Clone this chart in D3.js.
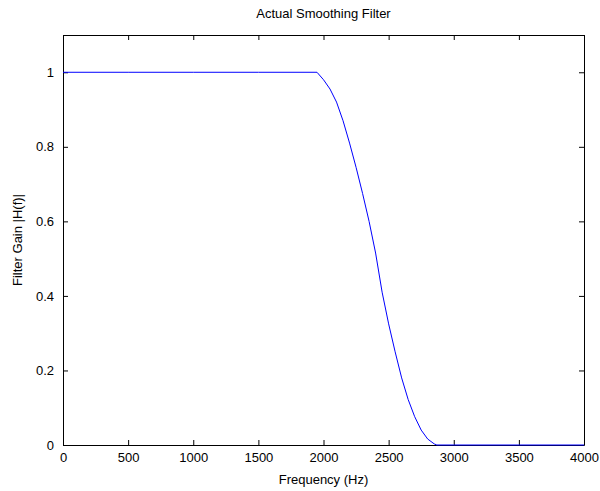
<!DOCTYPE html>
<html>
<head>
<meta charset="utf-8">
<title>Actual Smoothing Filter</title>
<script src="https://d3js.org/d3.v7.min.js"></script>
<style>
body { margin: 0; background: #fff; }
text { font-family: "Liberation Sans", Arial, sans-serif; font-size: 13px; fill: #000; }
</style>
</head>
<body>
<svg id="chart" width="600" height="491"></svg>
<script>
// frequency (Hz) and gain
var freq = [0, 500, 1000, 1500, 1950, 2000, 2050, 2100, 2150, 2200, 2250, 2300, 2350, 2400,
            2450, 2500, 2550, 2600, 2650, 2700, 2750, 2800, 2850, 2870, 3000, 3500, 4000];
var gain = [1, 1, 1, 1, 1, 0.98, 0.955, 0.92, 0.87, 0.81, 0.745, 0.675, 0.6, 0.515,
            0.41, 0.325, 0.25, 0.18, 0.122, 0.076, 0.04, 0.016, 0.003, 0, 0, 0, 0];
var xTicks = [0, 500, 1000, 1500, 2000, 2500, 3000, 3500, 4000];
var yTicks = [0, 0.2, 0.4, 0.6, 0.8, 1];

var m = {left: 63, right: 584, top: 35, bottom: 445};
var svg = d3.select("#chart");

var x = d3.scaleLinear().domain([0, 4000]).range([m.left, m.right]);
var y = d3.scaleLinear().domain([0, 1.1]).range([m.bottom, m.top]);

// axes, ticks pointing inward like matlab
function styleAxis(g) {
  g.select(".domain").attr("stroke", "#000");
  g.selectAll(".tick line").attr("stroke", "#000");
}
svg.append("g").attr("transform", "translate(0," + m.bottom + ")")
  .call(d3.axisBottom(x).tickValues(xTicks).tickSizeInner(-5).tickSizeOuter(0).tickPadding(8).tickFormat(d3.format("d")))
  .call(styleAxis);
svg.append("g").attr("transform", "translate(0," + m.top + ")")
  .call(d3.axisTop(x).tickValues(xTicks).tickSizeInner(-5).tickSizeOuter(0).tickFormat(""))
  .call(styleAxis);
svg.append("g").attr("transform", "translate(" + m.left + ",0)")
  .call(d3.axisLeft(y).tickValues(yTicks).tickSizeInner(-5).tickSizeOuter(0).tickPadding(9).tickFormat(d3.format("~g")))
  .call(styleAxis);
svg.append("g").attr("transform", "translate(" + m.right + ",0)")
  .call(d3.axisRight(y).tickValues(yTicks).tickSizeInner(-5).tickSizeOuter(0).tickFormat(""))
  .call(styleAxis);
svg.selectAll(".tick text").style("font-size", "13px").attr("font-family", null);

// the response curve
var line = d3.line().x(function(d, i) { return x(freq[i]); }).y(function(d) { return y(d); });
svg.append("path").datum(gain)
  .attr("d", line)
  .attr("fill", "none")
  .attr("stroke", "#0000ff")
  .attr("stroke-width", 1);

// labels
svg.append("text").attr("x", (m.left + m.right) / 2).attr("y", 18)
  .attr("text-anchor", "middle").text("Actual Smoothing Filter");
svg.append("text").attr("x", (m.left + m.right) / 2).attr("y", 484)
  .attr("text-anchor", "middle").text("Frequency (Hz)");
svg.append("text").attr("transform", "translate(22," + (m.top + m.bottom) / 2 + ") rotate(-90)")
  .attr("text-anchor", "middle").text("Filter Gain |H(f)|");
</script>
</body>
</html>
